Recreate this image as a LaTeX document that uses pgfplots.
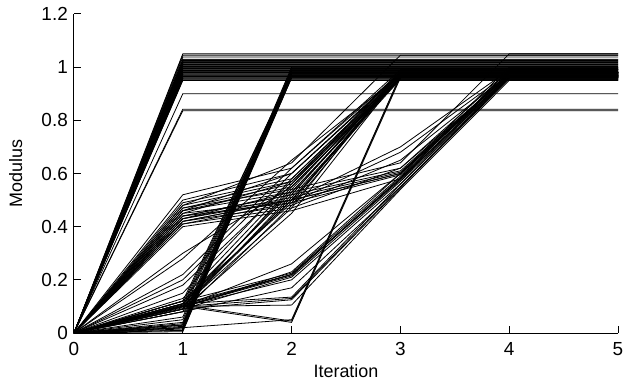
\documentclass[border=0pt]{standalone}
\usepackage{fontspec}
\setmainfont{Liberation Sans}
\usepackage{pgfplots}
\pgfplotsset{compat=1.18}
\tikzset{l/.style={black, line width=0.8bp}}
\newcommand{\lf}{\fontsize{18}{21}\selectfont}
\newcommand{\tf}{\fontsize{19}{22}\selectfont}
\begin{document}
\begin{tikzpicture}
\begin{axis}[
  at={(0,0)}, anchor=south west,
  scale only axis, width=544bp, height=319bp,
  xmin=0, xmax=5, ymin=0, ymax=1.2,
  axis lines*=left,
  axis line style={line width=1bp, black},
  tick align=inside, major tick length=7bp,
  tick style={line width=1bp, black},
  xtick={0,1,2,3,4,5}, ytick={0,0.2,0.4,0.6,0.8,1,1.2},
  xticklabels={0,1,2,3,4,5},
  yticklabels={0,0.2,0.4,0.6,0.8,1,1.2},
  every tick label/.append style={font=\tf},
  xticklabel style={font=\tf, inner sep=0pt, yshift=-9bp},
  yticklabel style={font=\tf, inner sep=0pt, xshift=-6bp},
  xlabel={Iteration}, ylabel={Modulus},
  xlabel style={font=\lf, at={(axis description cs:0.5,-0.097)}, anchor=north, inner sep=0pt},
  ylabel style={font=\lf, at={(axis description cs:-0.107,0.5)}, anchor=center, inner sep=0pt, rotate=0},
]
% Group A: reach ~1 at iteration 1, then flat
\addplot[l] coordinates {(0,0)(1,1.05)(2,1.05)(3,1.05)(4,1.05)(5,1.05)};
\addplot[l] coordinates {(0,0)(1,1.045)(2,1.045)(3,1.045)(4,1.045)(5,1.045)};
\addplot[l] coordinates {(0,0)(1,1.038)(2,1.038)(3,1.038)(4,1.038)(5,1.038)};
\addplot[l] coordinates {(0,0)(1,1.03)(2,1.03)(3,1.03)(4,1.03)(5,1.03)};
\addplot[l] coordinates {(0,0)(1,1.028)(2,1.028)(3,1.028)(4,1.028)(5,1.028)};
\addplot[l] coordinates {(0,0)(1,1.025)(2,1.025)(3,1.025)(4,1.025)(5,1.025)};
\addplot[l] coordinates {(0,0)(1,1.022)(2,1.022)(3,1.022)(4,1.022)(5,1.022)};
\addplot[l] coordinates {(0,0)(1,1.02)(2,1.02)(3,1.02)(4,1.02)(5,1.02)};
\addplot[l] coordinates {(0,0)(1,1.018)(2,1.018)(3,1.018)(4,1.018)(5,1.018)};
\addplot[l] coordinates {(0,0)(1,1.015)(2,1.015)(3,1.015)(4,1.015)(5,1.015)};
\addplot[l] coordinates {(0,0)(1,1.012)(2,1.012)(3,1.012)(4,1.012)(5,1.012)};
\addplot[l] coordinates {(0,0)(1,1.01)(2,1.01)(3,1.01)(4,1.01)(5,1.01)};
\addplot[l] coordinates {(0,0)(1,1.008)(2,1.008)(3,1.008)(4,1.008)(5,1.008)};
\addplot[l] coordinates {(0,0)(1,1.005)(2,1.005)(3,1.005)(4,1.005)(5,1.005)};
\addplot[l] coordinates {(0,0)(1,1.003)(2,1.003)(3,1.003)(4,1.003)(5,1.003)};
\addplot[l] coordinates {(0,0)(1,1.0)(2,1.0)(3,1.0)(4,1.0)(5,1.0)};
\addplot[l] coordinates {(0,0)(1,0.998)(2,0.998)(3,0.998)(4,0.998)(5,0.998)};
\addplot[l] coordinates {(0,0)(1,0.995)(2,0.995)(3,0.995)(4,0.995)(5,0.995)};
\addplot[l] coordinates {(0,0)(1,0.993)(2,0.993)(3,0.993)(4,0.993)(5,0.993)};
\addplot[l] coordinates {(0,0)(1,0.99)(2,0.99)(3,0.99)(4,0.99)(5,0.99)};
\addplot[l] coordinates {(0,0)(1,0.988)(2,0.988)(3,0.988)(4,0.988)(5,0.988)};
\addplot[l] coordinates {(0,0)(1,0.985)(2,0.985)(3,0.985)(4,0.985)(5,0.985)};
\addplot[l] coordinates {(0,0)(1,0.983)(2,0.983)(3,0.983)(4,0.983)(5,0.983)};
\addplot[l] coordinates {(0,0)(1,0.98)(2,0.98)(3,0.98)(4,0.98)(5,0.98)};
\addplot[l] coordinates {(0,0)(1,0.978)(2,0.978)(3,0.978)(4,0.978)(5,0.978)};
\addplot[l] coordinates {(0,0)(1,0.975)(2,0.975)(3,0.975)(4,0.975)(5,0.975)};
\addplot[l] coordinates {(0,0)(1,0.973)(2,0.973)(3,0.973)(4,0.973)(5,0.973)};
\addplot[l] coordinates {(0,0)(1,0.97)(2,0.97)(3,0.97)(4,0.97)(5,0.97)};
\addplot[l] coordinates {(0,0)(1,0.968)(2,0.968)(3,0.968)(4,0.968)(5,0.968)};
\addplot[l] coordinates {(0,0)(1,0.965)(2,0.965)(3,0.965)(4,0.965)(5,0.965)};
\addplot[l] coordinates {(0,0)(1,0.963)(2,0.963)(3,0.963)(4,0.963)(5,0.963)};
\addplot[l] coordinates {(0,0)(1,0.96)(2,0.96)(3,0.96)(4,0.96)(5,0.96)};
\addplot[l] coordinates {(0,0)(1,0.958)(2,0.958)(3,0.958)(4,0.958)(5,0.958)};
\addplot[l] coordinates {(0,0)(1,0.955)(2,0.955)(3,0.955)(4,0.955)(5,0.955)};
\addplot[l] coordinates {(0,0)(1,0.952)(2,0.952)(3,0.952)(4,0.952)(5,0.952)};
\addplot[l] coordinates {(0,0)(1,0.95)(2,0.95)(3,0.95)(4,0.95)(5,0.95)};
\addplot[l] coordinates {(0,0)(1,0.90)(2,0.90)(3,0.90)(4,0.90)(5,0.90)};
\addplot[l] coordinates {(0,0)(1,0.842)(2,0.842)(3,0.842)(4,0.842)(5,0.842)};
\addplot[l] coordinates {(0,0)(1,0.836)(2,0.836)(3,0.836)(4,0.836)(5,0.836)};
% Group B: low at iteration 1, ~1 at iteration 2
\addplot[l] coordinates {(0,0)(1,0.01)(2,0.96)(3,0.96)(4,0.96)(5,0.96)};
\addplot[l] coordinates {(0,0)(1,0.015)(2,0.965)(3,0.965)(4,0.965)(5,0.965)};
\addplot[l] coordinates {(0,0)(1,0.02)(2,0.97)(3,0.97)(4,0.97)(5,0.97)};
\addplot[l] coordinates {(0,0)(1,0.02)(2,0.975)(3,0.975)(4,0.975)(5,0.975)};
\addplot[l] coordinates {(0,0)(1,0.025)(2,0.98)(3,0.98)(4,0.98)(5,0.98)};
\addplot[l] coordinates {(0,0)(1,0.03)(2,0.985)(3,0.985)(4,0.985)(5,0.985)};
\addplot[l] coordinates {(0,0)(1,0.03)(2,0.99)(3,0.99)(4,0.99)(5,0.99)};
\addplot[l] coordinates {(0,0)(1,0.035)(2,0.995)(3,0.995)(4,0.995)(5,0.995)};
\addplot[l] coordinates {(0,0)(1,0.04)(2,1.0)(3,1.0)(4,1.0)(5,1.0)};
\addplot[l] coordinates {(0,0)(1,0.005)(2,0.97)(3,0.97)(4,0.97)(5,0.97)};
\addplot[l] coordinates {(0,0)(1,0.01)(2,0.975)(3,0.975)(4,0.975)(5,0.975)};
\addplot[l] coordinates {(0,0)(1,0.02)(2,0.98)(3,0.98)(4,0.98)(5,0.98)};
\addplot[l] coordinates {(0,0)(1,0.03)(2,0.96)(3,0.96)(4,0.96)(5,0.96)};
\addplot[l] coordinates {(0,0)(1,0.05)(2,0.99)(3,0.99)(4,0.99)(5,0.99)};
\addplot[l] coordinates {(0,0)(1,0.06)(2,0.985)(3,0.985)(4,0.985)(5,0.985)};
\addplot[l] coordinates {(0,0)(1,0.08)(2,0.97)(3,0.97)(4,0.97)(5,0.97)};
\addplot[l] coordinates {(0,0)(1,0.09)(2,0.975)(3,0.975)(4,0.975)(5,0.975)};
\addplot[l] coordinates {(0,0)(1,0.10)(2,0.975)(3,0.975)(4,0.975)(5,0.975)};
\addplot[l] coordinates {(0,0)(1,0.11)(2,0.98)(3,0.98)(4,0.98)(5,0.98)};
\addplot[l] coordinates {(0,0)(1,0.12)(2,0.98)(3,0.98)(4,0.98)(5,0.98)};
% Group C: ~0.45 at 1, ~0.55 at 2, ~0.97 at 3
\addplot[l] coordinates {(0,0)(1,0.52)(2,0.62)(3,0.99)(4,0.99)(5,0.99)};
\addplot[l] coordinates {(0,0)(1,0.50)(2,0.60)(3,0.98)(4,0.98)(5,0.98)};
\addplot[l] coordinates {(0,0)(1,0.49)(2,0.58)(3,0.975)(4,0.975)(5,0.975)};
\addplot[l] coordinates {(0,0)(1,0.48)(2,0.57)(3,0.97)(4,0.97)(5,0.97)};
\addplot[l] coordinates {(0,0)(1,0.47)(2,0.56)(3,0.965)(4,0.965)(5,0.965)};
\addplot[l] coordinates {(0,0)(1,0.46)(2,0.55)(3,0.96)(4,0.96)(5,0.96)};
\addplot[l] coordinates {(0,0)(1,0.45)(2,0.57)(3,0.97)(4,0.97)(5,0.97)};
\addplot[l] coordinates {(0,0)(1,0.44)(2,0.52)(3,0.98)(4,0.98)(5,0.98)};
\addplot[l] coordinates {(0,0)(1,0.43)(2,0.53)(3,0.955)(4,0.955)(5,0.955)};
\addplot[l] coordinates {(0,0)(1,0.42)(2,0.50)(3,0.965)(4,0.965)(5,0.965)};
\addplot[l] coordinates {(0,0)(1,0.48)(2,0.64)(3,1.045)(4,1.045)(5,1.045)};
\addplot[l] coordinates {(0,0)(1,0.46)(2,0.60)(3,0.975)(4,0.975)(5,0.975)};
% Group D: ~0.1 at 1, ~0.5 at 2, ~0.97 at 3
\addplot[l] coordinates {(0,0)(1,0.10)(2,0.50)(3,0.97)(4,0.97)(5,0.97)};
\addplot[l] coordinates {(0,0)(1,0.09)(2,0.52)(3,0.975)(4,0.975)(5,0.975)};
\addplot[l] coordinates {(0,0)(1,0.11)(2,0.54)(3,0.98)(4,0.98)(5,0.98)};
\addplot[l] coordinates {(0,0)(1,0.10)(2,0.55)(3,0.96)(4,0.96)(5,0.96)};
\addplot[l] coordinates {(0,0)(1,0.12)(2,0.53)(3,0.965)(4,0.965)(5,0.965)};
\addplot[l] coordinates {(0,0)(1,0.08)(2,0.48)(3,0.97)(4,0.97)(5,0.97)};
\addplot[l] coordinates {(0,0)(1,0.10)(2,0.47)(3,0.985)(4,0.985)(5,0.985)};
\addplot[l] coordinates {(0,0)(1,0.13)(2,0.56)(3,0.99)(4,0.99)(5,0.99)};
\addplot[l] coordinates {(0,0)(1,0.15)(2,0.58)(3,0.97)(4,0.97)(5,0.97)};
\addplot[l] coordinates {(0,0)(1,0.18)(2,0.57)(3,0.96)(4,0.96)(5,0.96)};
\addplot[l] coordinates {(0,0)(1,0.20)(2,0.60)(3,0.975)(4,0.975)(5,0.975)};
\addplot[l] coordinates {(0,0)(1,0.22)(2,0.62)(3,0.98)(4,0.98)(5,0.98)};
\addplot[l] coordinates {(0,0)(1,0.28)(2,0.65)(3,0.97)(4,0.97)(5,0.97)};
\addplot[l] coordinates {(0,0)(1,0.30)(2,0.55)(3,0.965)(4,0.965)(5,0.965)};
\addplot[l] coordinates {(0,0)(1,0.11)(2,0.50)(3,0.955)(4,0.955)(5,0.955)};
\addplot[l] coordinates {(0,0)(1,0.10)(2,0.51)(3,0.96)(4,0.96)(5,0.96)};
\addplot[l] coordinates {(0,0)(1,0.09)(2,0.45)(3,0.97)(4,0.97)(5,0.97)};
\addplot[l] coordinates {(0,0)(1,0.12)(2,0.49)(3,0.98)(4,0.98)(5,0.98)};
% Group E: ~0.45 at 1, ~0.5 at 2, ~0.6-0.7 at 3, ~0.97 at 4
\addplot[l] coordinates {(0,0)(1,0.45)(2,0.50)(3,0.70)(4,0.99)(5,0.99)};
\addplot[l] coordinates {(0,0)(1,0.44)(2,0.49)(3,0.68)(4,0.98)(5,0.98)};
\addplot[l] coordinates {(0,0)(1,0.42)(2,0.48)(3,0.65)(4,0.975)(5,0.975)};
\addplot[l] coordinates {(0,0)(1,0.41)(2,0.47)(3,0.62)(4,0.97)(5,0.97)};
\addplot[l] coordinates {(0,0)(1,0.43)(2,0.50)(3,0.60)(4,0.965)(5,0.965)};
\addplot[l] coordinates {(0,0)(1,0.42)(2,0.50)(3,0.60)(4,0.96)(5,0.96)};
\addplot[l] coordinates {(0,0)(1,0.43)(2,0.51)(3,0.605)(4,0.97)(5,0.97)};
\addplot[l] coordinates {(0,0)(1,0.44)(2,0.52)(3,0.61)(4,0.975)(5,0.975)};
\addplot[l] coordinates {(0,0)(1,0.41)(2,0.49)(3,0.595)(4,0.98)(5,0.98)};
\addplot[l] coordinates {(0,0)(1,0.46)(2,0.53)(3,0.62)(4,0.985)(5,0.985)};
\addplot[l] coordinates {(0,0)(1,0.40)(2,0.46)(3,0.58)(4,0.96)(5,0.96)};
\addplot[l] coordinates {(0,0)(1,0.47)(2,0.54)(3,0.64)(4,1.05)(5,1.05)};
% Group F: ~0.1 at 1, ~0.2 at 2, ~0.57 at 3, ~0.97 at 4
\addplot[l] coordinates {(0,0)(1,0.10)(2,0.26)(3,0.60)(4,0.98)(5,0.98)};
\addplot[l] coordinates {(0,0)(1,0.10)(2,0.22)(3,0.58)(4,0.97)(5,0.97)};
\addplot[l] coordinates {(0,0)(1,0.09)(2,0.21)(3,0.57)(4,0.965)(5,0.965)};
\addplot[l] coordinates {(0,0)(1,0.11)(2,0.22)(3,0.575)(4,0.97)(5,0.97)};
\addplot[l] coordinates {(0,0)(1,0.10)(2,0.20)(3,0.56)(4,0.96)(5,0.96)};
\addplot[l] coordinates {(0,0)(1,0.08)(2,0.17)(3,0.55)(4,0.955)(5,0.955)};
\addplot[l] coordinates {(0,0)(1,0.10)(2,0.13)(3,0.55)(4,0.96)(5,0.96)};
\addplot[l] coordinates {(0,0)(1,0.09)(2,0.125)(3,0.545)(4,0.965)(5,0.965)};
\addplot[l] coordinates {(0,0)(1,0.11)(2,0.135)(3,0.56)(4,0.97)(5,0.97)};
\addplot[l] coordinates {(0,0)(1,0.10)(2,0.105)(3,0.54)(4,0.95)(5,0.95)};
\addplot[l] coordinates {(0,0)(1,0.12)(2,0.225)(3,0.59)(4,0.975)(5,0.975)};
\addplot[l] coordinates {(0,0)(1,0.10)(2,0.215)(3,0.585)(4,0.98)(5,0.98)};
\addplot[l] coordinates {(0,0)(1,0.105)(2,0.22)(3,0.58)(4,0.99)(5,0.99)};
\addplot[l] coordinates {(0,0)(1,0.095)(2,0.23)(3,0.60)(4,1.0)(5,1.0)};
% Group G: drop at 2, jump to ~0.97 at 3
\addplot[l] coordinates {(0,0)(1,0.10)(2,0.04)(3,0.96)(4,0.96)(5,0.96)};
\addplot[l] coordinates {(0,0)(1,0.105)(2,0.045)(3,0.965)(4,0.965)(5,0.965)};
\addplot[l] coordinates {(0,0)(1,0.02)(2,0.05)(3,0.97)(4,0.97)(5,0.97)};
\end{axis}
\pgfresetboundingbox
\path (-74bp,-54bp) rectangle (551bp,333bp);
\end{tikzpicture}
\end{document}
